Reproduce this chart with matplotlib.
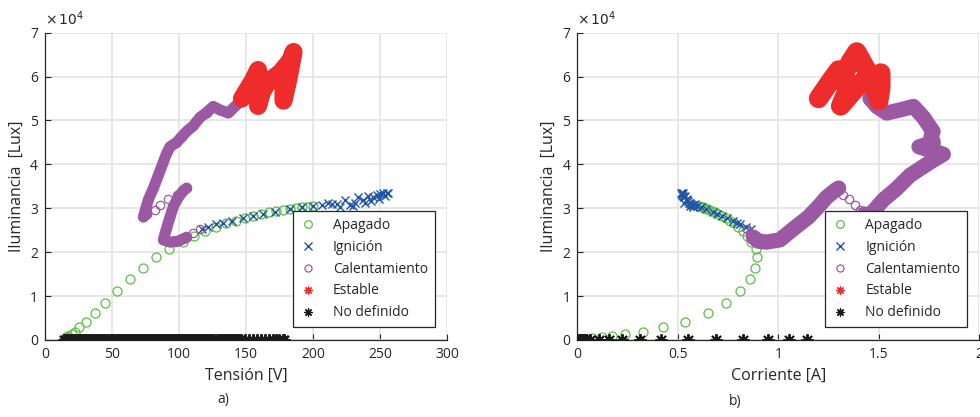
import numpy as np
import matplotlib
matplotlib.use("Agg")
import matplotlib.pyplot as plt
from matplotlib.ticker import FuncFormatter

plt.rcParams['font.family'] = ['Open Sans', 'DejaVu Sans']

# Apagado (lamp off): tension [V], corriente [A], iluminancia [lux]
off_v = [14.0, 15.0, 16.0, 17.5, 20.0, 22.4, 25.6, 30.6, 37.3, 44.5, 53.7, 63.2, 72.9, 82.8, 92.8, 102.7,
         111.4, 119.4, 127.6, 135.1, 142.5, 149.3, 155.5, 161.2, 166.9, 172.4, 177.9, 182.8, 187.3, 191.5,
         195.3, 200.2]
off_i = [0.03, 0.072, 0.121, 0.171, 0.237, 0.325, 0.428, 0.537, 0.649, 0.741, 0.811, 0.859, 0.886, 0.896,
         0.888, 0.864, 0.844, 0.823, 0.80, 0.78, 0.76, 0.74, 0.72, 0.70, 0.685, 0.67, 0.655, 0.645, 0.635,
         0.625, 0.615, 0.605]
off_l = [150, 380, 760, 912, 1300, 1824, 2964, 4104, 6050, 8500, 11050, 13780, 16290, 18800, 20700, 22300,
         23740, 24880, 25810, 26570, 27180, 27710, 28240, 28700, 29080, 29300, 29610, 29840, 30070, 30220,
         30370, 30520]

# Ignicion
ign_v = [116.9, 121.9, 127.6, 132.6, 139.3, 148.1, 155.5, 162.9, 171.6, 182.8, 191.5, 200.2, 206.5, 211.4,
         217.7, 223.9, 227.6, 231.3, 233.8, 237.6, 241.3, 245.0, 247.5, 250.0, 252.5, 255.0, 256.2, 253.5,
         249.0, 243.5, 239.0, 229.5, 220.5, 214.0]
ign_i = [0.865, 0.84, 0.81, 0.795, 0.775, 0.745, 0.72, 0.695, 0.675, 0.64, 0.615, 0.595, 0.575, 0.56, 0.565,
         0.545, 0.57, 0.555, 0.53, 0.54, 0.525, 0.53, 0.52, 0.522, 0.518, 0.52, 0.525, 0.535, 0.545, 0.55,
         0.53, 0.56, 0.575, 0.585]
ign_l = [25200, 25810, 26420, 26720, 27100, 27710, 28240, 28700, 29080, 29760, 30220, 30520, 30750, 31130,
         30980, 31890, 30750, 31130, 32490, 31890, 32800, 32650, 33020, 33250, 33400, 33560, 33400, 32900,
         32200, 31600, 31300, 30600, 30400, 30900]

# Calentamiento
warm_v = [115.7, 110.7, 105.7, 99.5, 93.3, 88.3, 90.8, 93.3, 95.8, 99.5, 103.2, 105.7, 98.3, 92.0, 86.0,
          82.1, 76.0, 73.4, 77.1, 80.8, 84.6, 88.3, 90.5, 93.3, 98.3, 102.0, 105.7, 110.7, 115.7, 120.6,
          125.6, 130.6, 136.8, 141.8, 145.5, 150.5]
warm_i = [0.843, 0.86, 0.876, 0.90, 0.942, 1.008, 1.08, 1.15, 1.20, 1.24, 1.28, 1.30, 1.323, 1.35, 1.38,
          1.406, 1.43, 1.448, 1.522, 1.589, 1.655, 1.755, 1.821, 1.70, 1.771, 1.76, 1.77, 1.75, 1.722, 1.70,
          1.672, 1.606, 1.539, 1.49, 1.47, 1.456]
warm_l = [25200, 24300, 23400, 22500, 22300, 22800, 25500, 28000, 30400, 32500, 34000, 34600, 33100, 32000,
          30800, 29600, 28700, 28000, 31900, 34500, 37500, 40500, 42300, 44000, 45000, 46300, 47500, 48800,
          50700, 51800, 53200, 52400, 51700, 53200, 54300, 55000]
warm_dense = [(2, 12), (16, 36)]  # slices drawn as a continuous band

# Estable
est_v = [147, 151, 155, 159, 160, 159.5, 159, 162, 166.7, 172, 176.6, 178, 178, 181, 183, 184.5, 185.5,
         183, 180, 176, 170, 165]
est_i = [1.20, 1.23, 1.26, 1.30, 1.36, 1.33, 1.31, 1.37, 1.42, 1.47, 1.51, 1.51, 1.50, 1.47, 1.44, 1.41,
         1.39, 1.36, 1.35, 1.33, 1.30, 1.27]
est_l = [55000, 57000, 59000, 61500, 58000, 55500, 53300, 56500, 58900, 59800, 60800, 57500, 54500, 58500,
         61500, 64000, 65600, 63500, 62500, 61000, 59500, 59000]

# No definido
und_v = [14, 15.5, 17, 18.5, 20, 21.5, 23, 24.5, 26, 27.5, 29, 30.5, 32, 33.5, 35, 36.5, 38, 39.5, 41, 42.5,
         44, 45.5, 47, 48.5, 50, 51.5, 53, 54.5, 56, 57.5, 59, 60.5, 62, 63.5, 65, 66.5, 68, 69.5, 71, 72.5,
         74, 75.5, 77, 78.5, 80, 81.5, 83, 84.5, 86, 87.5, 89, 90.5, 92, 93.5, 95, 96.5, 98, 99.5, 101,
         102.5, 104, 105.5, 107, 108.5, 110, 111.5, 113, 114.5, 116, 117.5, 119, 120.5, 122, 123.5, 125,
         126.5, 128, 129.5, 131, 132.5, 134, 135.5, 137, 138.5, 140, 141.5, 143, 144.5, 146,
         149, 152, 155, 158, 161, 164, 167, 170, 172.5, 175, 177.5, 178.5]
und_i = [0.005, 0.01, 0.02, 0.03, 0.012, 0.025, 0.04, 0.008, 0.018, 0.035, 0.015, 0.028, 0.045, 0.01,
         0.022, 0.033, 0.006, 0.019, 0.041, 0.013, 0.027, 0.037, 0.009, 0.024, 0.031, 0.016, 0.043, 0.011,
         0.029, 0.038, 0.007, 0.021, 0.034, 0.014, 0.026, 0.039, 0.01, 0.023, 0.032, 0.017, 0.044, 0.012,
         0.03, 0.036, 0.02, 0.008, 0.025, 0.04, 0.005, 0.015, 0.022, 0.03, 0.011, 0.027, 0.038, 0.009,
         0.018, 0.034, 0.013, 0.024, 0.042, 0.007, 0.02, 0.031, 0.016, 0.028, 0.036, 0.006, 0.019, 0.04,
         0.012, 0.026, 0.033, 0.01, 0.023, 0.037, 0.014, 0.029, 0.008, 0.021, 0.035, 0.017, 0.025, 0.043,
         0.011, 0.03, 0.019, 0.027, 0.014,
         0.063, 0.106, 0.156, 0.222, 0.310, 0.418, 0.550, 0.689, 0.823, 0.947, 1.055, 1.141]
und_l = [0] * len(und_v)

GREEN = '#5cbf42'
BLUE = '#1f55a5'
PURPLE = '#9b58a3'
RED = '#ee2c2c'
BLACK = '#1a1a1a'
AXC = '#262626'
STAR = (8, 2, 0)  # asterisk marker

fig = plt.figure(figsize=(9.8, 4.17), dpi=100)
ax1 = fig.add_axes([0.0459, 0.1847, 0.4102, 0.737])
ax2 = fig.add_axes([0.5891, 0.1847, 0.4102, 0.737])


def draw(ax, off_x, ign_x, warm_x, est_x, und_x, band_w, red_w):
    ax.plot(off_x, off_l, 'o', mfc='none', mec=GREEN, ms=6.5, mew=0.9, label='Apagado', zorder=3)
    ax.plot(ign_x, ign_l, 'x', color=BLUE, ms=6, mew=1.0, label='Ignición', zorder=3)
    wx = np.array(warm_x)
    wl = np.array(warm_l)
    for a, b in warm_dense:
        ax.plot(wx[a:b], wl[a:b], '-', color=PURPLE, lw=band_w, solid_capstyle='round',
                solid_joinstyle='round', zorder=4)
    ax.plot(wx, wl, 'o', mfc='none', mec=PURPLE, ms=6, mew=0.9, label='Calentamiento', zorder=4)
    ax.plot(est_x, est_l, '-', color=RED, lw=red_w, solid_capstyle='round', solid_joinstyle='round',
            zorder=5)
    ax.plot(est_x, est_l, ls='none', marker=STAR, color=RED, ms=7, mew=0.9, label='Estable', zorder=5)
    ax.plot(und_x, und_l, ls='none', marker=STAR, color=BLACK, ms=9, mew=1.4, label='No definido', zorder=6)

    ax.set_ylim(0, 70000)
    ax.set_yticks(np.arange(0, 70001, 10000))
    ax.yaxis.set_major_formatter(FuncFormatter(lambda v, p: '%d' % round(v / 1e4)))
    ax.grid(True, color='#e3e3e3', lw=1.2)
    ax.set_axisbelow(True)
    for s in ('top', 'right'):
        ax.spines[s].set_visible(False)
    for s in ('left', 'bottom'):
        ax.spines[s].set_color(AXC)
        ax.spines[s].set_linewidth(0.9)
    ax.tick_params(direction='in', length=4, width=0.8, colors=AXC, labelsize=10, pad=5)
    ax.set_ylabel('Iluminancia  [Lux]', fontsize=11.5, color=AXC, labelpad=4)
    ax.text(0, 1.012, r'$\times\,10^4$', transform=ax.transAxes, fontsize=10, color=AXC,
            ha='left', va='bottom')
    leg = ax.legend(loc='lower right', bbox_to_anchor=(0.970, 0.041), fancybox=False, framealpha=1,
                    edgecolor=AXC, fontsize=10, handlelength=1.2, handletextpad=1.2,
                    labelspacing=0.5, borderpad=0.5, borderaxespad=0, markerscale=0.85)
    leg.get_frame().set_linewidth(0.9)
    for t in leg.get_texts():
        t.set_color(AXC)
    # keep the legend asterisks at their normal stroke
    leg.legend_handles[4].set_markeredgewidth(0.9)
    leg.legend_handles[4].set_markersize(6)


draw(ax1, off_v, ign_v, warm_v, est_v, und_v, 8, 13)
ax1.set_xlim(0, 300)
ax1.set_xticks(np.arange(0, 301, 50))
ax1.set_xlabel('Tensión [V]', fontsize=11.5, color=AXC, labelpad=4)

draw(ax2, off_i, ign_i, warm_i, est_i, und_i, 11, 14)
ax2.set_xlim(0, 2)
ax2.set_xticks([0, 0.5, 1, 1.5, 2])
ax2.xaxis.set_major_formatter(FuncFormatter(lambda v, p: '%g' % v))
ax2.set_xlabel('Corriente [A]', fontsize=11.5, color=AXC, labelpad=4)

fig.text(0.2276, 0.024, 'a)', ha='center', va='bottom', fontsize=10, color=AXC)
fig.text(0.750, 0.018, 'b)', ha='center', va='bottom', fontsize=10, color=AXC)

fig.savefig('out.png', dpi=100)
